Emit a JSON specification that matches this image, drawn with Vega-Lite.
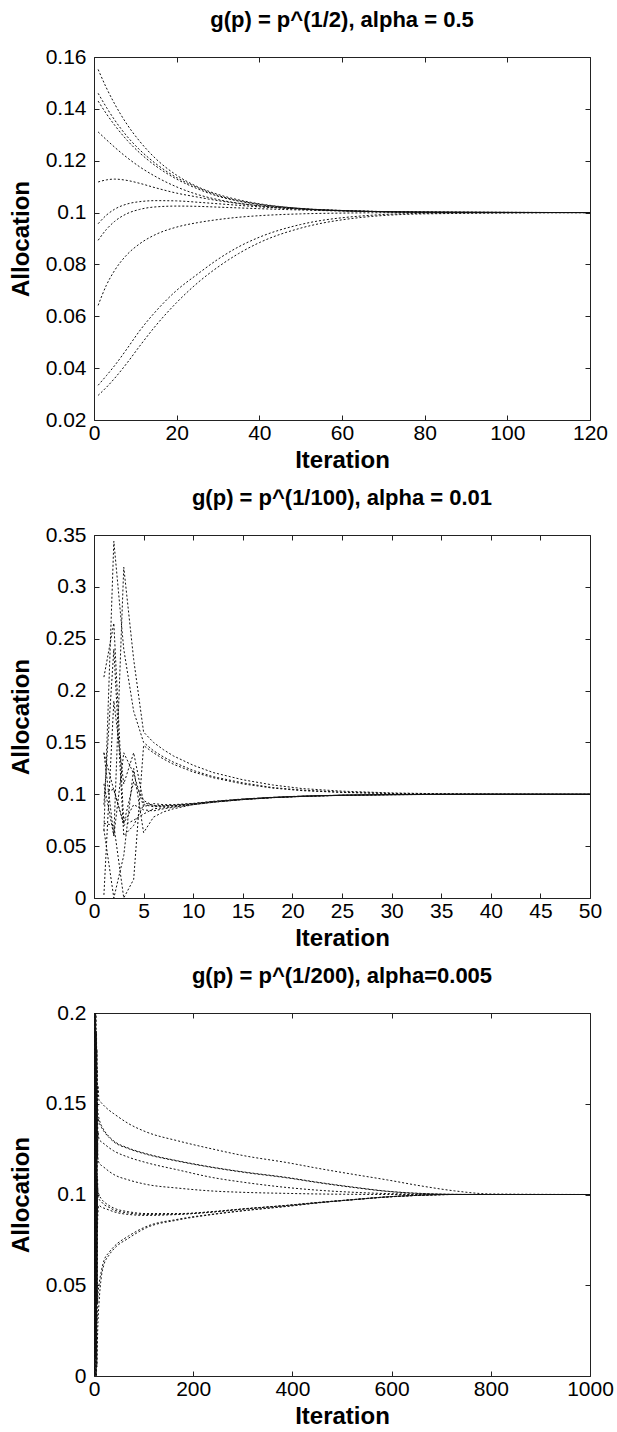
{
  "$schema": "https://vega.github.io/schema/vega-lite/v6.json",
  "background": "white",
  "padding": {"left": 8, "top": 8, "right": 2, "bottom": 2},
  "spacing": 13,
  "config": {
    "font": "Liberation Sans",
    "view": {"stroke": "#222222", "strokeWidth": 1},
    "axis": {
      "grid": false, "domain": false, "tickColor": "#222222", "tickSize": -5, "tickWidth": 1,
      "labelFont": "Liberation Sans", "labelFontSize": 21, "labelColor": "black", "labelFlush": false, "labelOverlap": false,
      "titleFont": "Liberation Sans", "titleFontSize": 24, "titleFontWeight": "bold", "titleColor": "black"
    },
    "axisX": {"labelPadding": 7, "titlePadding": 5},
    "axisY": {"labelPadding": 13, "titlePadding": 12},
    "title": {"font": "Liberation Sans", "fontSize": 22, "fontWeight": "bold", "color": "black", "offset": 14, "anchor": "middle", "frame": "group"}
  },
  "datasets": {
    "p1": [
      {"s":"A","x":1,"y":0.1552},{"s":"A","x":3,"y":0.1481},{"s":"A","x":5,"y":0.1419},{"s":"A","x":8,"y":0.1340},{"s":"A","x":11,"y":0.1276},{"s":"A","x":15,"y":0.1207},{"s":"A","x":20,"y":0.1144},{"s":"A","x":25,"y":0.1100},{"s":"A","x":30,"y":0.1070},{"s":"A","x":35,"y":0.1049},{"s":"A","x":40,"y":0.1034},{"s":"A","x":50,"y":0.1016},{"s":"A","x":60,"y":0.1008},{"s":"A","x":80,"y":0.1002},{"s":"A","x":120,"y":0.1000},
      {"s":"B","x":1,"y":0.1460},{"s":"B","x":3,"y":0.1406},{"s":"B","x":5,"y":0.1357},{"s":"B","x":8,"y":0.1294},{"s":"B","x":11,"y":0.1243},{"s":"B","x":15,"y":0.1188},{"s":"B","x":20,"y":0.1135},{"s":"B","x":25,"y":0.1097},{"s":"B","x":30,"y":0.1066},{"s":"B","x":35,"y":0.1046},{"s":"B","x":40,"y":0.1032},{"s":"B","x":50,"y":0.1016},{"s":"B","x":60,"y":0.1008},{"s":"B","x":80,"y":0.1002},{"s":"B","x":120,"y":0.1000},
      {"s":"C","x":1,"y":0.1430},{"s":"C","x":3,"y":0.1381},{"s":"C","x":5,"y":0.1337},{"s":"C","x":8,"y":0.1279},{"s":"C","x":11,"y":0.1231},{"s":"C","x":15,"y":0.1179},{"s":"C","x":20,"y":0.1129},{"s":"C","x":25,"y":0.1092},{"s":"C","x":30,"y":0.1063},{"s":"C","x":35,"y":0.1044},{"s":"C","x":40,"y":0.1031},{"s":"C","x":50,"y":0.1015},{"s":"C","x":60,"y":0.1007},{"s":"C","x":80,"y":0.1002},{"s":"C","x":120,"y":0.1000},
      {"s":"D","x":1,"y":0.1311},{"s":"D","x":3,"y":0.1281},{"s":"D","x":5,"y":0.1252},{"s":"D","x":8,"y":0.1212},{"s":"D","x":11,"y":0.1177},{"s":"D","x":15,"y":0.1138},{"s":"D","x":20,"y":0.1099},{"s":"D","x":25,"y":0.1070},{"s":"D","x":30,"y":0.1050},{"s":"D","x":35,"y":0.1036},{"s":"D","x":40,"y":0.1026},{"s":"D","x":50,"y":0.1013},{"s":"D","x":60,"y":0.1007},{"s":"D","x":80,"y":0.1001},{"s":"D","x":120,"y":0.1000},
      {"s":"E","x":1,"y":0.1118},{"s":"E","x":3,"y":0.1126},{"s":"E","x":5,"y":0.1129},{"s":"E","x":8,"y":0.1124},{"s":"E","x":11,"y":0.1113},{"s":"E","x":15,"y":0.1095},{"s":"E","x":20,"y":0.1075},{"s":"E","x":25,"y":0.1060},{"s":"E","x":30,"y":0.1046},{"s":"E","x":35,"y":0.1035},{"s":"E","x":40,"y":0.1026},{"s":"E","x":50,"y":0.1014},{"s":"E","x":60,"y":0.1007},{"s":"E","x":80,"y":0.1002},{"s":"E","x":120,"y":0.1000},
      {"s":"F","x":1,"y":0.0957},{"s":"F","x":3,"y":0.0990},{"s":"F","x":5,"y":0.1013},{"s":"F","x":8,"y":0.1033},{"s":"F","x":11,"y":0.1042},{"s":"F","x":15,"y":0.1046},{"s":"F","x":20,"y":0.1045},{"s":"F","x":25,"y":0.1040},{"s":"F","x":30,"y":0.1034},{"s":"F","x":35,"y":0.1028},{"s":"F","x":40,"y":0.1022},{"s":"F","x":50,"y":0.1014},{"s":"F","x":60,"y":0.1008},{"s":"F","x":80,"y":0.1002},{"s":"F","x":120,"y":0.1000},
      {"s":"G","x":1,"y":0.0893},{"s":"G","x":3,"y":0.0935},{"s":"G","x":5,"y":0.0966},{"s":"G","x":8,"y":0.0996},{"s":"G","x":11,"y":0.1012},{"s":"G","x":15,"y":0.1022},{"s":"G","x":20,"y":0.1025},{"s":"G","x":25,"y":0.1024},{"s":"G","x":30,"y":0.1021},{"s":"G","x":35,"y":0.1018},{"s":"G","x":40,"y":0.1015},{"s":"G","x":50,"y":0.1010},{"s":"G","x":60,"y":0.1006},{"s":"G","x":80,"y":0.1002},{"s":"G","x":120,"y":0.1000},
      {"s":"H","x":1,"y":0.0642},{"s":"H","x":3,"y":0.0720},{"s":"H","x":5,"y":0.0777},{"s":"H","x":8,"y":0.0838},{"s":"H","x":11,"y":0.0879},{"s":"H","x":15,"y":0.0916},{"s":"H","x":20,"y":0.0944},{"s":"H","x":25,"y":0.0961},{"s":"H","x":30,"y":0.0973},{"s":"H","x":35,"y":0.0982},{"s":"H","x":40,"y":0.0988},{"s":"H","x":50,"y":0.0995},{"s":"H","x":60,"y":0.0998},{"s":"H","x":80,"y":0.1000},{"s":"H","x":120,"y":0.1000},
      {"s":"I","x":1,"y":0.0334},{"s":"I","x":3,"y":0.0371},{"s":"I","x":5,"y":0.0410},{"s":"I","x":8,"y":0.0475},{"s":"I","x":11,"y":0.0543},{"s":"I","x":15,"y":0.0620},{"s":"I","x":20,"y":0.0700},{"s":"I","x":25,"y":0.0762},{"s":"I","x":30,"y":0.0820},{"s":"I","x":35,"y":0.0868},{"s":"I","x":40,"y":0.0905},{"s":"I","x":50,"y":0.0954},{"s":"I","x":60,"y":0.0980},{"s":"I","x":80,"y":0.0997},{"s":"I","x":120,"y":0.1000},
      {"s":"J","x":1,"y":0.0295},{"s":"J","x":3,"y":0.0326},{"s":"J","x":5,"y":0.0361},{"s":"J","x":8,"y":0.0420},{"s":"J","x":11,"y":0.0484},{"s":"J","x":15,"y":0.0565},{"s":"J","x":20,"y":0.0653},{"s":"J","x":25,"y":0.0728},{"s":"J","x":30,"y":0.0790},{"s":"J","x":35,"y":0.0842},{"s":"J","x":40,"y":0.0884},{"s":"J","x":50,"y":0.0940},{"s":"J","x":60,"y":0.0972},{"s":"J","x":80,"y":0.0995},{"s":"J","x":120,"y":0.1000}
    ],
    "p2": [
      {"s":"U1","x":1,"y":0.140},{"s":"U1","x":2,"y":0.060},{"s":"U1","x":3,"y":0.319},{"s":"U1","x":4,"y":0.230},{"s":"U1","x":5,"y":0.160},{"s":"U1","x":6,"y":0.150},{"s":"U1","x":7,"y":0.143},{"s":"U1","x":8,"y":0.137},{"s":"U1","x":10,"y":0.128},{"s":"U1","x":12,"y":0.121},{"s":"U1","x":15,"y":0.114},{"s":"U1","x":18,"y":0.109},{"s":"U1","x":21,"y":0.1055},{"s":"U1","x":25,"y":0.1030},{"s":"U1","x":30,"y":0.1013},{"s":"U1","x":35,"y":0.1005},{"s":"U1","x":40,"y":0.1002},{"s":"U1","x":50,"y":0.1000},
      {"s":"U2","x":1,"y":0.065},{"s":"U2","x":2,"y":0.344},{"s":"U2","x":3,"y":0.240},{"s":"U2","x":4,"y":0.180},{"s":"U2","x":5,"y":0.150},{"s":"U2","x":6,"y":0.142},{"s":"U2","x":7,"y":0.136},{"s":"U2","x":8,"y":0.131},{"s":"U2","x":10,"y":0.123},{"s":"U2","x":12,"y":0.117},{"s":"U2","x":15,"y":0.111},{"s":"U2","x":18,"y":0.1065},{"s":"U2","x":21,"y":0.1040},{"s":"U2","x":25,"y":0.1020},{"s":"U2","x":30,"y":0.1008},{"s":"U2","x":35,"y":0.1003},{"s":"U2","x":40,"y":0.1001},{"s":"U2","x":50,"y":0.1000},
      {"s":"U3","x":1,"y":0.072},{"s":"U3","x":2,"y":0.070},{"s":"U3","x":3,"y":0.000},{"s":"U3","x":4,"y":0.018},{"s":"U3","x":5,"y":0.147},{"s":"U3","x":6,"y":0.140},{"s":"U3","x":7,"y":0.134},{"s":"U3","x":8,"y":0.129},{"s":"U3","x":10,"y":0.1215},{"s":"U3","x":12,"y":0.116},{"s":"U3","x":15,"y":0.110},{"s":"U3","x":18,"y":0.106},{"s":"U3","x":21,"y":0.1035},{"s":"U3","x":25,"y":0.1018},{"s":"U3","x":30,"y":0.1007},{"s":"U3","x":35,"y":0.1003},{"s":"U3","x":40,"y":0.1001},{"s":"U3","x":50,"y":0.1000},
      {"s":"La","x":1,"y":0.066},{"s":"La","x":2,"y":0.000},{"s":"La","x":3,"y":0.041},{"s":"La","x":4,"y":0.125},{"s":"La","x":5,"y":0.063},{"s":"La","x":6,"y":0.078},{"s":"La","x":7,"y":0.083},{"s":"La","x":8,"y":0.086},{"s":"La","x":10,"y":0.090},{"s":"La","x":12,"y":0.0925},{"s":"La","x":15,"y":0.095},{"s":"La","x":18,"y":0.0968},{"s":"La","x":21,"y":0.098},{"s":"La","x":25,"y":0.099},{"s":"La","x":30,"y":0.0996},{"s":"La","x":35,"y":0.0999},{"s":"La","x":40,"y":0.1},{"s":"La","x":50,"y":0.1},
      {"s":"Lb","x":1,"y":0.213},{"s":"Lb","x":2,"y":0.265},{"s":"Lb","x":3,"y":0.072},{"s":"Lb","x":4,"y":0.112},{"s":"Lb","x":5,"y":0.094},{"s":"Lb","x":6,"y":0.089},{"s":"Lb","x":7,"y":0.0885},{"s":"Lb","x":8,"y":0.089},{"s":"Lb","x":10,"y":0.0908},{"s":"Lb","x":12,"y":0.0928},{"s":"Lb","x":15,"y":0.0952},{"s":"Lb","x":18,"y":0.0969},{"s":"Lb","x":21,"y":0.0981},{"s":"Lb","x":25,"y":0.0991},{"s":"Lb","x":30,"y":0.0997},{"s":"Lb","x":35,"y":0.0999},{"s":"Lb","x":40,"y":0.1},{"s":"Lb","x":50,"y":0.1},
      {"s":"Lc","x":1,"y":0.003},{"s":"Lc","x":2,"y":0.190},{"s":"Lc","x":3,"y":0.110},{"s":"Lc","x":4,"y":0.140},{"s":"Lc","x":5,"y":0.092},{"s":"Lc","x":6,"y":0.089},{"s":"Lc","x":7,"y":0.089},{"s":"Lc","x":8,"y":0.0895},{"s":"Lc","x":10,"y":0.091},{"s":"Lc","x":12,"y":0.093},{"s":"Lc","x":15,"y":0.0953},{"s":"Lc","x":18,"y":0.097},{"s":"Lc","x":21,"y":0.0982},{"s":"Lc","x":25,"y":0.0991},{"s":"Lc","x":30,"y":0.0997},{"s":"Lc","x":35,"y":0.0999},{"s":"Lc","x":40,"y":0.1},{"s":"Lc","x":50,"y":0.1},
      {"s":"Ld","x":1,"y":0.101},{"s":"Ld","x":2,"y":0.105},{"s":"Ld","x":3,"y":0.070},{"s":"Ld","x":4,"y":0.075},{"s":"Ld","x":5,"y":0.081},{"s":"Ld","x":6,"y":0.086},{"s":"Ld","x":7,"y":0.087},{"s":"Ld","x":8,"y":0.088},{"s":"Ld","x":10,"y":0.0903},{"s":"Ld","x":12,"y":0.0925},{"s":"Ld","x":15,"y":0.095},{"s":"Ld","x":18,"y":0.0968},{"s":"Ld","x":21,"y":0.098},{"s":"Ld","x":25,"y":0.099},{"s":"Ld","x":30,"y":0.0996},{"s":"Ld","x":35,"y":0.0999},{"s":"Ld","x":40,"y":0.1},{"s":"Ld","x":50,"y":0.1},
      {"s":"Le","x":1,"y":0.090},{"s":"Le","x":2,"y":0.240},{"s":"Le","x":3,"y":0.060},{"s":"Le","x":4,"y":0.070},{"s":"Le","x":5,"y":0.090},{"s":"Le","x":6,"y":0.088},{"s":"Le","x":7,"y":0.0885},{"s":"Le","x":8,"y":0.089},{"s":"Le","x":10,"y":0.0906},{"s":"Le","x":12,"y":0.0927},{"s":"Le","x":15,"y":0.0951},{"s":"Le","x":18,"y":0.0969},{"s":"Le","x":21,"y":0.0981},{"s":"Le","x":25,"y":0.0991},{"s":"Le","x":30,"y":0.0997},{"s":"Le","x":35,"y":0.0999},{"s":"Le","x":40,"y":0.1},{"s":"Le","x":50,"y":0.1},
      {"s":"Lf","x":1,"y":0.140},{"s":"Lf","x":2,"y":0.104},{"s":"Lf","x":3,"y":0.072},{"s":"Lf","x":4,"y":0.090},{"s":"Lf","x":5,"y":0.085},{"s":"Lf","x":6,"y":0.084},{"s":"Lf","x":7,"y":0.086},{"s":"Lf","x":8,"y":0.0875},{"s":"Lf","x":10,"y":0.090},{"s":"Lf","x":12,"y":0.0922},{"s":"Lf","x":15,"y":0.0948},{"s":"Lf","x":18,"y":0.0967},{"s":"Lf","x":21,"y":0.0979},{"s":"Lf","x":25,"y":0.099},{"s":"Lf","x":30,"y":0.0996},{"s":"Lf","x":35,"y":0.0999},{"s":"Lf","x":40,"y":0.1},{"s":"Lf","x":50,"y":0.1},
      {"s":"Lg","x":1,"y":0.110},{"s":"Lg","x":2,"y":0.060},{"s":"Lg","x":3,"y":0.140},{"s":"Lg","x":4,"y":0.120},{"s":"Lg","x":5,"y":0.088},{"s":"Lg","x":6,"y":0.091},{"s":"Lg","x":7,"y":0.090},{"s":"Lg","x":8,"y":0.090},{"s":"Lg","x":10,"y":0.0912},{"s":"Lg","x":12,"y":0.0932},{"s":"Lg","x":15,"y":0.0955},{"s":"Lg","x":18,"y":0.0971},{"s":"Lg","x":21,"y":0.0983},{"s":"Lg","x":25,"y":0.0992},{"s":"Lg","x":30,"y":0.0997},{"s":"Lg","x":35,"y":0.0999},{"s":"Lg","x":40,"y":0.1},{"s":"Lg","x":50,"y":0.1}
    ],
    "p3": [
      {"s":"P1","x":1,"y":0.100},{"s":"P1","x":2,"y":0.200},{"s":"P1","x":3,"y":0.010},{"s":"P1","x":4,"y":0.180},{"s":"P1","x":5,"y":0.060},{"s":"P1","x":6,"y":0.170},{"s":"P1","x":7,"y":0.150},{"s":"P1","x":8,"y":0.160},{"s":"P1","x":10,"y":0.152},{"s":"P1","x":15,"y":0.1505},{"s":"P1","x":20,"y":0.149},{"s":"P1","x":30,"y":0.1465},{"s":"P1","x":40,"y":0.1445},{"s":"P1","x":70,"y":0.139},{"s":"P1","x":105,"y":0.1345},{"s":"P1","x":170,"y":0.1295},{"s":"P1","x":240,"y":0.125},{"s":"P1","x":300,"y":0.1215},{"s":"P1","x":391,"y":0.1175},{"s":"P1","x":450,"y":0.1145},{"s":"P1","x":525,"y":0.111},{"s":"P1","x":592,"y":0.108},{"s":"P1","x":660,"y":0.1047},{"s":"P1","x":727,"y":0.102},{"s":"P1","x":800,"y":0.1003},{"s":"P1","x":1000,"y":0.1},
      {"s":"P2","x":1,"y":0.100},{"s":"P2","x":2,"y":0.000},{"s":"P2","x":3,"y":0.195},{"s":"P2","x":4,"y":0.030},{"s":"P2","x":5,"y":0.190},{"s":"P2","x":6,"y":0.120},{"s":"P2","x":7,"y":0.150},{"s":"P2","x":8,"y":0.145},{"s":"P2","x":10,"y":0.142},{"s":"P2","x":15,"y":0.138},{"s":"P2","x":20,"y":0.1355},{"s":"P2","x":30,"y":0.132},{"s":"P2","x":40,"y":0.1295},{"s":"P2","x":70,"y":0.1255},{"s":"P2","x":105,"y":0.1225},{"s":"P2","x":170,"y":0.1185},{"s":"P2","x":240,"y":0.115},{"s":"P2","x":300,"y":0.1125},{"s":"P2","x":391,"y":0.1093},{"s":"P2","x":450,"y":0.1068},{"s":"P2","x":525,"y":0.104},{"s":"P2","x":592,"y":0.1018},{"s":"P2","x":660,"y":0.1006},{"s":"P2","x":727,"y":0.1001},{"s":"P2","x":800,"y":0.1},{"s":"P2","x":1000,"y":0.1},
      {"s":"P9","x":1,"y":0.100},{"s":"P9","x":2,"y":0.200},{"s":"P9","x":3,"y":0.080},{"s":"P9","x":4,"y":0.190},{"s":"P9","x":5,"y":0.010},{"s":"P9","x":6,"y":0.180},{"s":"P9","x":7,"y":0.130},{"s":"P9","x":8,"y":0.142},{"s":"P9","x":10,"y":0.140},{"s":"P9","x":15,"y":0.137},{"s":"P9","x":20,"y":0.1348},{"s":"P9","x":30,"y":0.1315},{"s":"P9","x":40,"y":0.129},{"s":"P9","x":70,"y":0.1252},{"s":"P9","x":105,"y":0.1222},{"s":"P9","x":170,"y":0.1183},{"s":"P9","x":240,"y":0.1148},{"s":"P9","x":300,"y":0.1123},{"s":"P9","x":391,"y":0.1091},{"s":"P9","x":450,"y":0.1066},{"s":"P9","x":525,"y":0.1038},{"s":"P9","x":592,"y":0.1017},{"s":"P9","x":660,"y":0.1005},{"s":"P9","x":727,"y":0.1001},{"s":"P9","x":800,"y":0.1},{"s":"P9","x":1000,"y":0.1},
      {"s":"P3","x":1,"y":0.100},{"s":"P3","x":2,"y":0.180},{"s":"P3","x":3,"y":0.050},{"s":"P3","x":4,"y":0.200},{"s":"P3","x":5,"y":0.020},{"s":"P3","x":6,"y":0.160},{"s":"P3","x":7,"y":0.120},{"s":"P3","x":8,"y":0.135},{"s":"P3","x":10,"y":0.1305},{"s":"P3","x":15,"y":0.129},{"s":"P3","x":20,"y":0.128},{"s":"P3","x":30,"y":0.1258},{"s":"P3","x":40,"y":0.124},{"s":"P3","x":70,"y":0.1205},{"s":"P3","x":105,"y":0.1176},{"s":"P3","x":170,"y":0.1135},{"s":"P3","x":240,"y":0.1093},{"s":"P3","x":300,"y":0.1068},{"s":"P3","x":391,"y":0.1038},{"s":"P3","x":450,"y":0.1024},{"s":"P3","x":525,"y":0.1012},{"s":"P3","x":592,"y":0.1005},{"s":"P3","x":660,"y":0.1002},{"s":"P3","x":727,"y":0.1},{"s":"P3","x":800,"y":0.1},{"s":"P3","x":1000,"y":0.1},
      {"s":"P4","x":1,"y":0.100},{"s":"P4","x":2,"y":0.020},{"s":"P4","x":3,"y":0.170},{"s":"P4","x":4,"y":0.010},{"s":"P4","x":5,"y":0.185},{"s":"P4","x":6,"y":0.080},{"s":"P4","x":7,"y":0.130},{"s":"P4","x":8,"y":0.120},{"s":"P4","x":10,"y":0.1175},{"s":"P4","x":15,"y":0.116},{"s":"P4","x":20,"y":0.115},{"s":"P4","x":30,"y":0.1128},{"s":"P4","x":40,"y":0.111},{"s":"P4","x":70,"y":0.108},{"s":"P4","x":105,"y":0.1056},{"s":"P4","x":170,"y":0.1035},{"s":"P4","x":240,"y":0.1019},{"s":"P4","x":300,"y":0.1012},{"s":"P4","x":391,"y":0.1006},{"s":"P4","x":450,"y":0.1003},{"s":"P4","x":525,"y":0.1001},{"s":"P4","x":592,"y":0.1},{"s":"P4","x":660,"y":0.1},{"s":"P4","x":727,"y":0.1},{"s":"P4","x":800,"y":0.1},{"s":"P4","x":1000,"y":0.1},
      {"s":"P5","x":1,"y":0.100},{"s":"P5","x":2,"y":0.150},{"s":"P5","x":3,"y":0.000},{"s":"P5","x":4,"y":0.120},{"s":"P5","x":5,"y":0.100},{"s":"P5","x":6,"y":0.040},{"s":"P5","x":7,"y":0.110},{"s":"P5","x":8,"y":0.100},{"s":"P5","x":10,"y":0.0975},{"s":"P5","x":15,"y":0.096},{"s":"P5","x":20,"y":0.0945},{"s":"P5","x":30,"y":0.093},{"s":"P5","x":40,"y":0.0915},{"s":"P5","x":70,"y":0.0898},{"s":"P5","x":105,"y":0.089},{"s":"P5","x":170,"y":0.0892},{"s":"P5","x":240,"y":0.0905},{"s":"P5","x":300,"y":0.092},{"s":"P5","x":391,"y":0.094},{"s":"P5","x":450,"y":0.0955},{"s":"P5","x":525,"y":0.0972},{"s":"P5","x":592,"y":0.0986},{"s":"P5","x":660,"y":0.0996},{"s":"P5","x":727,"y":0.1},{"s":"P5","x":800,"y":0.1},{"s":"P5","x":1000,"y":0.1},
      {"s":"P8","x":1,"y":0.100},{"s":"P8","x":2,"y":0.060},{"s":"P8","x":3,"y":0.200},{"s":"P8","x":4,"y":0.050},{"s":"P8","x":5,"y":0.140},{"s":"P8","x":6,"y":0.090},{"s":"P8","x":7,"y":0.105},{"s":"P8","x":8,"y":0.102},{"s":"P8","x":10,"y":0.100},{"s":"P8","x":15,"y":0.0975},{"s":"P8","x":20,"y":0.096},{"s":"P8","x":30,"y":0.094},{"s":"P8","x":40,"y":0.0925},{"s":"P8","x":70,"y":0.0905},{"s":"P8","x":105,"y":0.0895},{"s":"P8","x":170,"y":0.0895},{"s":"P8","x":240,"y":0.0906},{"s":"P8","x":300,"y":0.0921},{"s":"P8","x":391,"y":0.0941},{"s":"P8","x":450,"y":0.0956},{"s":"P8","x":525,"y":0.0973},{"s":"P8","x":592,"y":0.0987},{"s":"P8","x":660,"y":0.0996},{"s":"P8","x":727,"y":0.1},{"s":"P8","x":800,"y":0.1},{"s":"P8","x":1000,"y":0.1},
      {"s":"P10","x":1,"y":0.100},{"s":"P10","x":2,"y":0.000},{"s":"P10","x":3,"y":0.140},{"s":"P10","x":4,"y":0.040},{"s":"P10","x":5,"y":0.160},{"s":"P10","x":6,"y":0.030},{"s":"P10","x":7,"y":0.080},{"s":"P10","x":8,"y":0.090},{"s":"P10","x":10,"y":0.094},{"s":"P10","x":15,"y":0.093},{"s":"P10","x":20,"y":0.0925},{"s":"P10","x":30,"y":0.0915},{"s":"P10","x":40,"y":0.0905},{"s":"P10","x":70,"y":0.089},{"s":"P10","x":105,"y":0.0885},{"s":"P10","x":170,"y":0.089},{"s":"P10","x":240,"y":0.0903},{"s":"P10","x":300,"y":0.0919},{"s":"P10","x":391,"y":0.094},{"s":"P10","x":450,"y":0.0955},{"s":"P10","x":525,"y":0.0972},{"s":"P10","x":592,"y":0.0987},{"s":"P10","x":660,"y":0.0996},{"s":"P10","x":727,"y":0.1},{"s":"P10","x":800,"y":0.1},{"s":"P10","x":1000,"y":0.1},
      {"s":"P6","x":1,"y":0.100},{"s":"P6","x":2,"y":0.010},{"s":"P6","x":3,"y":0.090},{"s":"P6","x":4,"y":0.000},{"s":"P6","x":5,"y":0.050},{"s":"P6","x":6,"y":0.005},{"s":"P6","x":7,"y":0.020},{"s":"P6","x":8,"y":0.030},{"s":"P6","x":10,"y":0.040},{"s":"P6","x":15,"y":0.055},{"s":"P6","x":20,"y":0.0613},{"s":"P6","x":30,"y":0.0665},{"s":"P6","x":40,"y":0.070},{"s":"P6","x":70,"y":0.076},{"s":"P6","x":105,"y":0.0816},{"s":"P6","x":170,"y":0.086},{"s":"P6","x":240,"y":0.089},{"s":"P6","x":300,"y":0.091},{"s":"P6","x":391,"y":0.0935},{"s":"P6","x":450,"y":0.0953},{"s":"P6","x":525,"y":0.0972},{"s":"P6","x":592,"y":0.0987},{"s":"P6","x":660,"y":0.0996},{"s":"P6","x":727,"y":0.1},{"s":"P6","x":800,"y":0.1},{"s":"P6","x":1000,"y":0.1},
      {"s":"P7","x":1,"y":0.100},{"s":"P7","x":2,"y":0.190},{"s":"P7","x":3,"y":0.030},{"s":"P7","x":4,"y":0.150},{"s":"P7","x":5,"y":0.000},{"s":"P7","x":6,"y":0.100},{"s":"P7","x":7,"y":0.040},{"s":"P7","x":8,"y":0.045},{"s":"P7","x":10,"y":0.050},{"s":"P7","x":15,"y":0.058},{"s":"P7","x":20,"y":0.0635},{"s":"P7","x":30,"y":0.068},{"s":"P7","x":40,"y":0.0712},{"s":"P7","x":70,"y":0.0772},{"s":"P7","x":105,"y":0.0823},{"s":"P7","x":170,"y":0.0864},{"s":"P7","x":240,"y":0.0892},{"s":"P7","x":300,"y":0.0911},{"s":"P7","x":391,"y":0.0936},{"s":"P7","x":450,"y":0.0954},{"s":"P7","x":525,"y":0.0972},{"s":"P7","x":592,"y":0.0987},{"s":"P7","x":660,"y":0.0996},{"s":"P7","x":727,"y":0.1},{"s":"P7","x":800,"y":0.1},{"s":"P7","x":1000,"y":0.1}
    ]
  },
  "vconcat": [
    {
      "title": {"text": "g(p) = p^(1/2), alpha = 0.5"},
      "width": 496, "height": 363,
      "data": {"name": "p1"},
      "layer": [
        {
          "mark": {"type": "line", "color": "#111111", "strokeWidth": 1, "strokeDash": [2, 2], "interpolate": "monotone", "clip": true},
          "encoding": {
            "x": {"field": "x", "type": "quantitative", "scale": {"domain": [0, 120], "nice": false}, "axis": {"values": [0, 20, 40, 60, 80, 100, 120], "format": "d", "title": "Iteration"}},
            "y": {"field": "y", "type": "quantitative", "scale": {"domain": [0.02, 0.16], "nice": false, "zero": false}, "axis": {"values": [0.02, 0.04, 0.06, 0.08, 0.1, 0.12, 0.14, 0.16], "format": ".2~f", "title": "Allocation"}},
            "detail": {"field": "s"}
          }
        },
        {
          "mark": {"type": "line", "opacity": 0},
          "encoding": {
            "x": {"field": "x", "type": "quantitative", "axis": {"orient": "top", "labels": false, "title": null, "values": [0, 20, 40, 60, 80, 100, 120]}},
            "y": {"field": "y", "type": "quantitative", "axis": {"orient": "right", "labels": false, "title": null, "values": [0.02, 0.04, 0.06, 0.08, 0.1, 0.12, 0.14, 0.16]}},
            "detail": {"field": "s"}
          }
        }
      ],
      "resolve": {"axis": {"x": "independent", "y": "independent"}}
    },
    {
      "title": {"text": "g(p) = p^(1/100), alpha = 0.01"},
      "width": 496, "height": 363,
      "data": {"name": "p2"},
      "layer": [
        {
          "mark": {"type": "line", "color": "#111111", "strokeWidth": 1, "strokeDash": [2, 2], "clip": true},
          "encoding": {
            "x": {"field": "x", "type": "quantitative", "scale": {"domain": [0, 50], "nice": false}, "axis": {"values": [0, 5, 10, 15, 20, 25, 30, 35, 40, 45, 50], "format": "d", "title": "Iteration"}},
            "y": {"field": "y", "type": "quantitative", "scale": {"domain": [0, 0.35], "nice": false}, "axis": {"values": [0, 0.05, 0.1, 0.15, 0.2, 0.25, 0.3, 0.35], "format": ".2~f", "title": "Allocation"}},
            "detail": {"field": "s"}
          }
        },
        {
          "mark": {"type": "line", "opacity": 0},
          "encoding": {
            "x": {"field": "x", "type": "quantitative", "axis": {"orient": "top", "labels": false, "title": null, "values": [0, 5, 10, 15, 20, 25, 30, 35, 40, 45, 50]}},
            "y": {"field": "y", "type": "quantitative", "axis": {"orient": "right", "labels": false, "title": null, "values": [0, 0.05, 0.1, 0.15, 0.2, 0.25, 0.3, 0.35]}},
            "detail": {"field": "s"}
          }
        }
      ],
      "resolve": {"axis": {"x": "independent", "y": "independent"}}
    },
    {
      "title": {"text": "g(p) = p^(1/200), alpha=0.005"},
      "width": 496, "height": 363,
      "data": {"name": "p3"},
      "layer": [
        {
          "mark": {"type": "line", "color": "#111111", "strokeWidth": 1, "strokeDash": [2, 2], "interpolate": "monotone", "clip": true},
          "encoding": {
            "x": {"field": "x", "type": "quantitative", "scale": {"domain": [0, 1000], "nice": false}, "axis": {"values": [0, 200, 400, 600, 800, 1000], "format": "d", "title": "Iteration"}},
            "y": {"field": "y", "type": "quantitative", "scale": {"domain": [0, 0.2], "nice": false}, "axis": {"values": [0, 0.05, 0.1, 0.15, 0.2], "format": ".2~f", "title": "Allocation"}},
            "detail": {"field": "s"}
          }
        },
        {
          "mark": {"type": "line", "opacity": 0},
          "encoding": {
            "x": {"field": "x", "type": "quantitative", "axis": {"orient": "top", "labels": false, "title": null, "values": [0, 200, 400, 600, 800, 1000]}},
            "y": {"field": "y", "type": "quantitative", "axis": {"orient": "right", "labels": false, "title": null, "values": [0, 0.05, 0.1, 0.15, 0.2]}},
            "detail": {"field": "s"}
          }
        }
      ],
      "resolve": {"axis": {"x": "independent", "y": "independent"}}
    }
  ]
}
